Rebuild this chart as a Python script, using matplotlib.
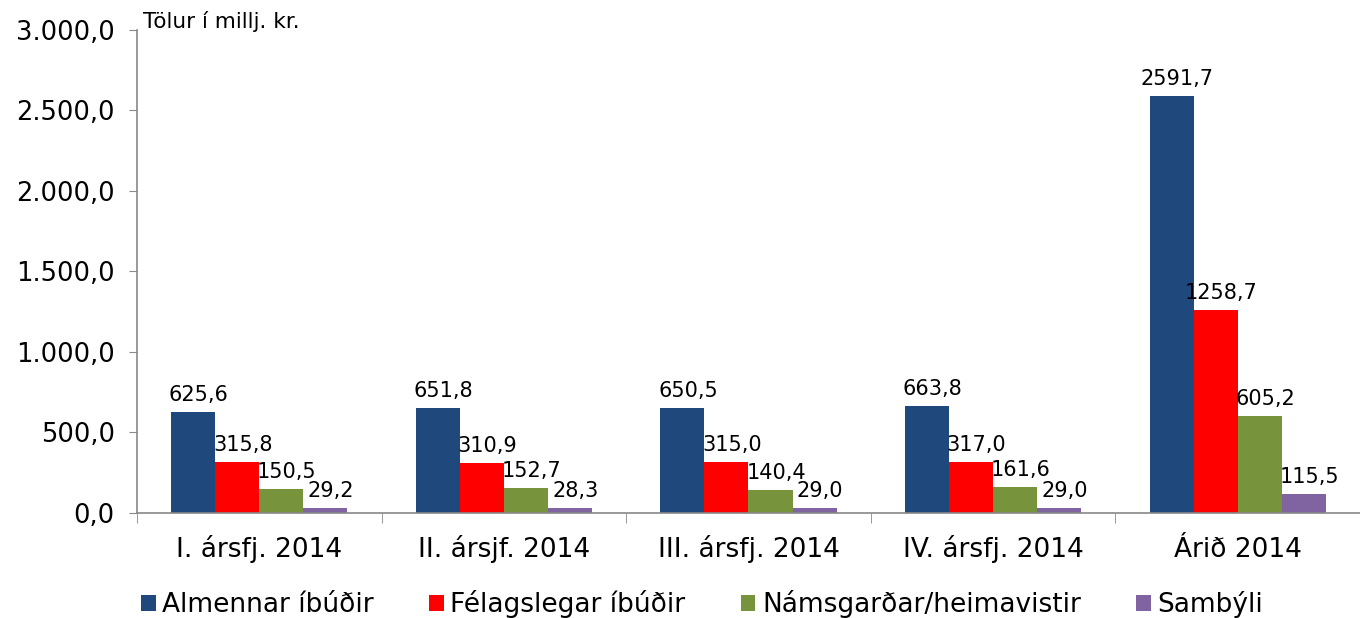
import numpy as np
import matplotlib.pyplot as plt
from matplotlib.ticker import FuncFormatter, FixedLocator

categories = ["I. ársfj. 2014", "II. ársjf. 2014", "III. ársfj. 2014",
              "IV. ársfj. 2014", "Árið 2014"]
series_names = ["Almennar íbúðir", "Félagslegar íbúðir",
                "Námsgarðar/heimavistir", "Sambýli"]
almennar = [625.6, 651.8, 650.5, 663.8, 2591.7]
felagslegar = [315.8, 310.9, 315.0, 317.0, 1258.7]
namsgardar = [150.5, 152.7, 140.4, 161.6, 605.2]
sambyli = [29.2, 28.3, 29.0, 29.0, 115.5]
colors = ["#1F497D", "#FF0000", "#77933C", "#8064A2"]

plt.rcParams['font.family'] = ['DejaVu Sans']


def fmt_is(v, pos=None):
    s = f"{v:,.1f}"
    return s.replace(",", "X").replace(".", ",").replace("X", ".")


fig = plt.figure(figsize=(13.6, 6.18), dpi=100)
ax = fig.add_axes([0.1007, 0.170, 0.8993, 0.7815])

x = np.arange(len(categories))
w = 0.18
all_series = [almennar, felagslegar, namsgardar, sambyli]
for i, (vals, name, c) in enumerate(zip(all_series, series_names, colors)):
    pos = x + (i - 1.5) * w
    ax.bar(pos, vals, width=w, color=c, label=name, edgecolor='none')
    for p, v in zip(pos, vals):
        ax.annotate(f"{v:.1f}".replace(".", ","), (p, v), xytext=(4, 5),
                    textcoords='offset points', ha='center', va='bottom',
                    fontsize=15)

ax.set_xlim(-0.5, len(categories) - 0.5)
ax.set_ylim(0, 3000)
ax.set_yticks(np.arange(0, 3001, 500))
ax.yaxis.set_major_formatter(FuncFormatter(fmt_is))

# category labels centred, tick marks at group boundaries
ax.set_xticks(x)
ax.set_xticklabels(categories, fontsize=19, va='baseline')
ax.tick_params(axis='x', which='major', length=0, pad=32)
ax.xaxis.set_minor_locator(FixedLocator(np.arange(-0.5, len(categories), 1.0)))
ax.tick_params(axis='x', which='minor', length=7, color='#888888', direction='out')
ax.tick_params(axis='y', labelsize=18.5, length=6, color='#888888', pad=10)

for side in ['top', 'right']:
    ax.spines[side].set_visible(False)
for side in ['left', 'bottom']:
    ax.spines[side].set_color('#888888')
    ax.spines[side].set_linewidth(1.2)

fig.text(143 / 1360, 1 - 22 / 618, "Tölur í millj. kr.", fontsize=15.5,
         ha='left', va='center')

fig.legend(loc='center left', bbox_to_anchor=(141 / 1360, 1 - 604 / 618),
           ncol=4, frameon=False, fontsize=19, handlelength=0.55,
           handleheight=0.55, handletextpad=0.25, columnspacing=2.1,
           borderaxespad=0, borderpad=0)

fig.savefig("out.png", dpi=100)
